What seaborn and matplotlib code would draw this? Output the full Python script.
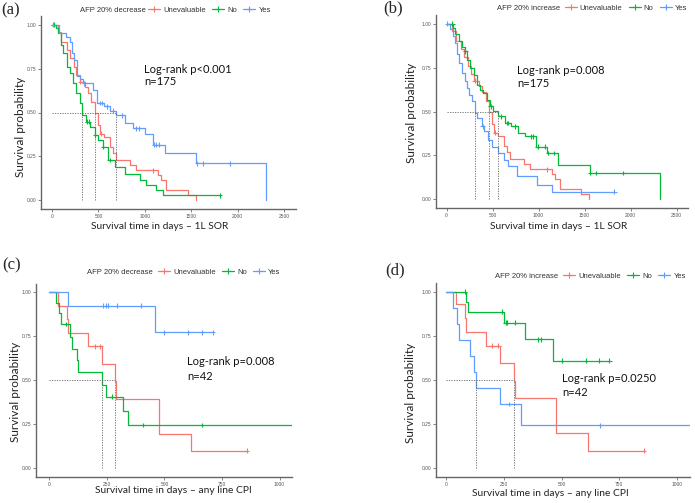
import numpy as np
import pandas as pd
import seaborn as sns
import matplotlib.pyplot as plt
from matplotlib.lines import Line2D

groups = ["Unevaluable", "No", "Yes"]
colors = ["#F8766D", "#00BA38", "#619CFF"]

# ---- (a) AFP 20% decrease, 1L SOR ----
a_unev_t = [60, 100, 155, 190, 233, 262, 298, 352, 388, 424, 460, 496, 520, 560, 621, 657, 693, 837, 909, 1142, 1178, 1232, 1460, 1552]
a_unev_s = [0.96, 0.90, 0.857, 0.81, 0.76, 0.714, 0.676, 0.648, 0.61, 0.56, 0.495, 0.43, 0.38, 0.36, 0.305, 0.267, 0.229, 0.20, 0.171, 0.143, 0.114, 0.057, 0.029, 0.0]
a_unev_cens = [305, 530, 1088]
a_no_t = [40, 65, 100, 118, 155, 190, 226, 262, 298, 327, 370, 406, 460, 496, 550, 607, 679, 790, 945, 1010, 1124, 1196]
a_no_s = [0.98, 0.952, 0.886, 0.838, 0.76, 0.724, 0.667, 0.61, 0.552, 0.486, 0.448, 0.42, 0.371, 0.343, 0.305, 0.229, 0.19, 0.152, 0.114, 0.086, 0.057, 0.029]
a_no_cens = [15, 380, 395, 465, 553, 620, 1811]
a_yes_t = [70, 150, 190, 215, 240, 266, 300, 338, 445, 482, 560, 620, 690, 790, 873, 1000, 1092, 1214, 1555, 2310]
a_yes_s = [0.952, 0.93, 0.90, 0.84, 0.80, 0.707, 0.69, 0.667, 0.63, 0.554, 0.535, 0.51, 0.485, 0.44, 0.41, 0.375, 0.316, 0.269, 0.21, 0.0]
a_yes_cens = [10, 345, 515, 535, 590, 660, 750, 900, 935, 1100, 1125, 1150, 1565, 1630, 1915]

# ---- (b) AFP 20% increase, 1L SOR ----
b_unev_t, b_unev_s, b_unev_cens = a_unev_t, a_unev_s, a_unev_cens
b_no_t = [65, 94, 130, 170, 195, 220, 257, 293, 329, 365, 401, 438, 474, 510, 557, 636, 700, 781, 850, 975, 1089, 1215, 1555, 2319]
b_no_s = [0.977, 0.94, 0.90, 0.87, 0.844, 0.796, 0.749, 0.71, 0.653, 0.625, 0.606, 0.568, 0.53, 0.505, 0.472, 0.434, 0.415, 0.377, 0.358, 0.30, 0.263, 0.196, 0.149, 0.0]
b_no_cens = [60, 205, 480, 590, 660, 670, 745, 920, 935, 990, 1070, 1105, 1170, 1560, 1630, 1920]
b_yes_t = [40, 70, 94, 115, 137, 166, 195, 220, 246, 275, 304, 329, 384, 412, 449, 492, 557, 619, 673, 763, 980, 1143]
b_yes_s = [0.968, 0.93, 0.89, 0.83, 0.777, 0.72, 0.672, 0.634, 0.596, 0.558, 0.49, 0.463, 0.415, 0.387, 0.339, 0.30, 0.263, 0.225, 0.187, 0.13, 0.082, 0.044]
b_yes_cens = [5, 395, 1823]

# ---- (c) AFP 20% decrease, any line CPI ----
c_unev_t = [39, 75, 80, 167, 228, 283, 290, 477, 615]
c_unev_s = [0.923, 0.846, 0.769, 0.692, 0.592, 0.493, 0.395, 0.197, 0.099]
c_unev_cens = [200, 222, 858]
c_no_t = [28, 42, 51, 90, 100, 119, 126, 228, 245, 322, 341]
c_no_s = [0.94, 0.88, 0.82, 0.744, 0.68, 0.615, 0.549, 0.473, 0.407, 0.327, 0.246]
c_no_cens = [73, 271, 406, 663]
c_yes_t = [80, 461]
c_yes_s = [0.924, 0.773]
c_yes_cens = [235, 245, 256, 296, 398, 496, 604, 662, 709]

# ---- (d) AFP 20% increase, any line CPI ----
d_unev_t = [42, 79, 85, 172, 234, 292, 299, 477, 617]
d_unev_s = [0.929, 0.849, 0.77, 0.694, 0.594, 0.495, 0.396, 0.198, 0.10]
d_unev_cens = [200, 225, 858]
d_no_t = [85, 94, 249, 342, 465]
d_no_s = [0.943, 0.887, 0.825, 0.73, 0.61]
d_no_cens = [79, 241, 258, 265, 299, 400, 410, 501, 605, 665, 708]
d_yes_t = [30, 45, 55, 104, 118, 130, 231, 325]
d_yes_s = [0.909, 0.818, 0.727, 0.636, 0.545, 0.455, 0.364, 0.243]
d_yes_cens = [273, 668]

panels = [
    dict(tag="(a)", legend="AFP 20% decrease", xlabel="Survival time in days \u2013 1L SOR",
         note="Log-rank p<0.001\nn=175", n=[(a_unev_t, a_unev_s, a_unev_cens, 1552), (a_no_t, a_no_s, a_no_cens, 1811), (a_yes_t, a_yes_s, a_yes_cens, 2310)],
         rect=[41, 296, 16, 209], xlim=(-120, 2630), xticks=[0, 500, 1000, 1500, 2000, 2500],
         note_xy=(0.404, 0.694), ls=1.1, tag_xy=(1, 10), leg_x=(0.412, 0.42), leg_y=1.031,
         ylab=(-0.059, 0.425), xlab=(0.467, -0.067)),
    dict(tag="(b)", legend="AFP 20% increase", xlabel="Survival time in days \u2013 1L SOR",
         note="Log-rank p=0.008\nn=175", n=[(b_unev_t, b_unev_s, b_unev_cens, 1552), (b_no_t, b_no_s, b_no_cens, 2319), (b_yes_t, b_yes_s, b_yes_cens, 1823)],
         rect=[436, 688, 15, 208], xlim=(-115, 2625), xticks=[0, 500, 1000, 1500, 2000, 2500],
         note_xy=(0.321, 0.679), ls=1.3, tag_xy=(383, 8), leg_x=(0.492, 0.51), leg_y=1.036,
         ylab=(-0.075, 0.49), xlab=(0.488, -0.07)),
    dict(tag="(c)", legend="AFP 20% decrease", xlabel="Survival time in days \u2013 any line CPI",
         note="Log-rank p=0.008\nn=42", n=[(c_unev_t, c_unev_s, c_unev_cens, 858), (c_no_t, c_no_s, c_no_cens, 1100), (c_yes_t, c_yes_s, c_yes_cens, 709)],
         rect=[36, 292, 283.5, 477], xlim=(-58, 1054), xticks=[0, 250, 500, 750, 1000],
         note_xy=(0.590, 0.559), ls=1.4, tag_xy=(2, 265), leg_x=(0.456, 0.475), leg_y=1.058,
         ylab=(-0.059, 0.44), xlab=(0.535, -0.049)),
    dict(tag="(d)", legend="AFP 20% increase", xlabel="Survival time in days \u2013 any line CPI",
         note="Log-rank p=0.0250\nn=42", n=[(d_unev_t, d_unev_s, d_unev_cens, 858), (d_no_t, d_no_s, d_no_cens, 708), (d_yes_t, d_yes_s, d_yes_cens, 1100)],
         rect=[436, 690, 283, 477], xlim=(-45, 1058), xticks=[0, 250, 500, 750, 1000],
         note_xy=(0.496, 0.472), ls=1.35, tag_xy=(385, 270), leg_x=(0.482, 0.50), leg_y=1.036,
         ylab=(-0.079, 0.435), xlab=(0.451, -0.064)),
]

W, H = 695, 503
sns.set_style("ticks")
plt.rcParams["font.family"] = ["Lato", "DejaVu Sans"]
sans = ["Liberation Sans", "DejaVu Sans"]
fig = plt.figure(figsize=(W / 100, H / 100), dpi=100)


def surv_at(t, s, x):
    tt = np.array([0] + list(t))
    ss = np.array([1.0] + list(s))
    return ss[np.searchsorted(tt, x, side="right") - 1]


for p in panels:
    l, r, t, b = p["rect"]
    ax = fig.add_axes([l / W, (H - b) / H, (r - l) / W, (b - t) / H])

    rows, crows, medians = [], [], []
    for g, (tt, ss, cc, end) in zip(groups, p["n"]):
        times = [0] + list(tt)
        survs = [1.0] + list(ss)
        if end > times[-1]:
            times.append(end)
            survs.append(survs[-1])
        for x, y in zip(times, survs):
            rows.append((g, x, y))
        for x in cc:
            crows.append((g, x, surv_at(tt, ss, x)))
        below = [x for x, y in zip(tt, ss) if y <= 0.5]
        if below:
            medians.append(below[0])
    curves = pd.DataFrame(rows, columns=["group", "time", "surv"])
    cens = pd.DataFrame(crows, columns=["group", "time", "surv"])

    sns.lineplot(data=curves, x="time", y="surv", hue="group", hue_order=groups, palette=colors,
                 estimator=None, sort=False, drawstyle="steps-post", lw=0.9, legend=False, ax=ax)
    sns.scatterplot(data=cens, x="time", y="surv", hue="group", hue_order=groups, palette=colors,
                    marker="+", s=12, linewidth=0.8, legend=False, ax=ax, zorder=3)

    # median survival guides
    ax.plot([0, max(medians)], [0.5, 0.5], color="#666666", lw=0.6, dashes=(1.5, 1.5))
    for m in medians:
        ax.plot([m, m], [0, 0.5], color="#666666", lw=0.6, dashes=(1.5, 1.5))

    ax.set_xlim(p["xlim"])
    ax.set_ylim(-0.05, 1.05)
    ax.set_xticks(p["xticks"])
    ax.set_yticks([0, 0.25, 0.5, 0.75, 1.0])
    ax.set_yticklabels(["0.00", "0.25", "0.50", "0.75", "1.00"])
    ax.tick_params(labelsize=3.5, colors="#555555", length=2, width=0.5, pad=1.5)
    for lab in ax.get_xticklabels() + ax.get_yticklabels():
        lab.set_fontfamily(sans)
    sns.despine(ax=ax)
    for sp in ["left", "bottom"]:
        ax.spines[sp].set_color("#666666")
        ax.spines[sp].set_linewidth(1.0)

    ax.set_ylabel("Survival probability", fontsize=8.5, color="#222222")
    ax.set_xlabel(p["xlabel"], fontsize=7.4, color="#222222")
    ax.yaxis.set_label_coords(*p["ylab"])
    ax.xaxis.set_label_coords(*p["xlab"])
    ax.xaxis.label.set_va("top")

    ax.text(*p["note_xy"], p["note"], transform=ax.transAxes, fontsize=8, ha="left", va="center",
            linespacing=p["ls"], color="#111111", zorder=5,
            bbox=dict(facecolor="white", edgecolor="none", pad=1.5))

    # legend above the panel
    ax.text(p["leg_x"][0], p["leg_y"], p["legend"], transform=ax.transAxes, fontsize=5.5,
            ha="right", va="center", color="#333333", family=sans)
    handles = [Line2D([], [], color=c, lw=0.9, marker="+", markersize=4, markeredgewidth=0.8)
               for c in colors]
    ax.legend(handles, groups, loc="center left", bbox_to_anchor=(p["leg_x"][1], p["leg_y"]),
              ncol=3, frameon=False, borderaxespad=0, borderpad=0, handlelength=1.6,
              handletextpad=0.4, columnspacing=0.8,
              prop={"size": 5.5, "family": sans}, labelcolor="#333333")

    fig.text(p["tag_xy"][0] / W, 1 - p["tag_xy"][1] / H, p["tag"], fontsize=12, ha="left", va="center",
             family=["Liberation Serif", "DejaVu Serif"])

fig.savefig("out.png", dpi=100)
